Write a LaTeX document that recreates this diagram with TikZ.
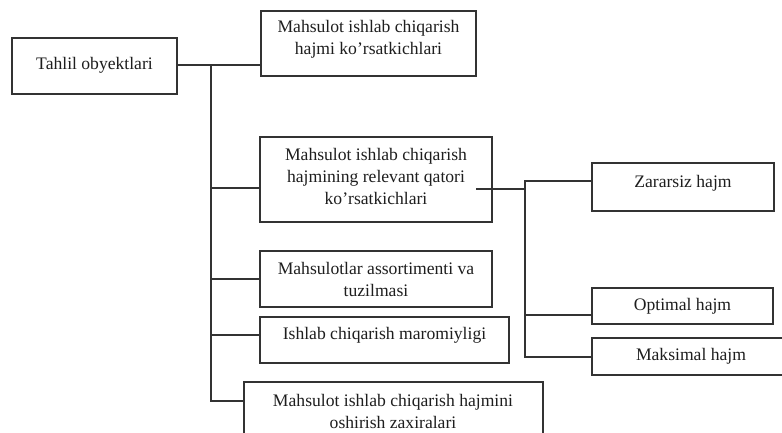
\documentclass[tikz,border=0pt]{standalone}
\usepackage{fontspec}
\setmainfont{Liberation Serif}
\definecolor{lineclr}{HTML}{333333}
\definecolor{txtclr}{HTML}{1E1E1E}
\begin{document}
\begin{tikzpicture}[x=1pt,y=-1pt,
  box/.style={draw=lineclr, line width=1.1pt, fill=white, inner sep=0pt},
  lbl/.style={align=center, font=\fontsize{17.6}{22}\selectfont, text=txtclr, inner sep=0pt},
  wire/.style={draw=lineclr, line width=1.1pt}]
\useasboundingbox (0,0) rectangle (782,433);
\begin{scope}
\clip (0,0) rectangle (782,433);
% main object box
\node[box, minimum width=165, minimum height=56] (b0) at (94.5,66) {};
\node[lbl] (t0) at (94.5,65) {Tahlil obyektlari};
% first-level boxes
\node[box, minimum width=215, minimum height=65] (b1) at (368.5,43.5) {};
\node[lbl] (t1) at (368.5,39) {Mahsulot ishlab chiqarish\\hajmi ko’rsatkichlari};
\node[box, minimum width=232, minimum height=85] (b2) at (376,179.5) {};
\node[lbl] (t2) at (376,176.5) {Mahsulot ishlab chiqarish\\hajmining relevant qatori\\ko’rsatkichlari};
\node[box, minimum width=232, minimum height=56] (b3) at (376,279) {};
\node[lbl] (t3) at (376,279) {Mahsulotlar assortimenti va\\tuzilmasi};
\node[box, minimum width=249, minimum height=46] (b4) at (384.5,340) {};
\node[lbl] (t4) at (384.5,335) {Ishlab chiqarish maromiyligi};
\node[box, minimum width=299, minimum height=63] (b5) at (393.5,413.5) {};
\node[lbl] (t5) at (393,411) {Mahsulot ishlab chiqarish hajmini\\oshirish zaxiralari};
% second-level boxes
\node[box, minimum width=182, minimum height=48] (z) at (683,187) {};
\node[lbl] (tz) at (683,183) {Zararsiz hajm};
\node[box, minimum width=181, minimum height=36] (o) at (682.5,306) {};
\node[lbl] (to) at (682.5,306) {Optimal hajm};
\node[box, minimum width=198, minimum height=37] (m) at (691,356.5) {};
\node[lbl] (tm) at (691,356) {Maksimal hajm};
% first-level connectors
\coordinate (j0) at (211,65);
\coordinate (j2) at (211,188);
\coordinate (j3) at (211,279);
\coordinate (j4) at (211,335);
\coordinate (j5) at (211,401);
\draw[wire] (b0.east |- j0) -- (b1.west |- j0);
\draw[wire] (j0) -- (j5) -- (b5.west |- j5);
\draw[wire] (j2) -- (b2.west |- j2);
\draw[wire] (j3) -- (b3.west |- j3);
\draw[wire] (j4) -- (b4.west |- j4);
% second-level connectors
\coordinate (s2) at (476,189);
\coordinate (k0) at (525,181);
\coordinate (k1) at (525,189);
\coordinate (k2) at (525,315);
\coordinate (k3) at (525,357);
\draw[wire] (s2) -- (k1);
\draw[wire] (z.west |- k0) -- (k0) -- (k3) -- (m.west |- k3);
\draw[wire] (k2) -- (o.west |- k2);
\end{scope}
\end{tikzpicture}
\end{document}
